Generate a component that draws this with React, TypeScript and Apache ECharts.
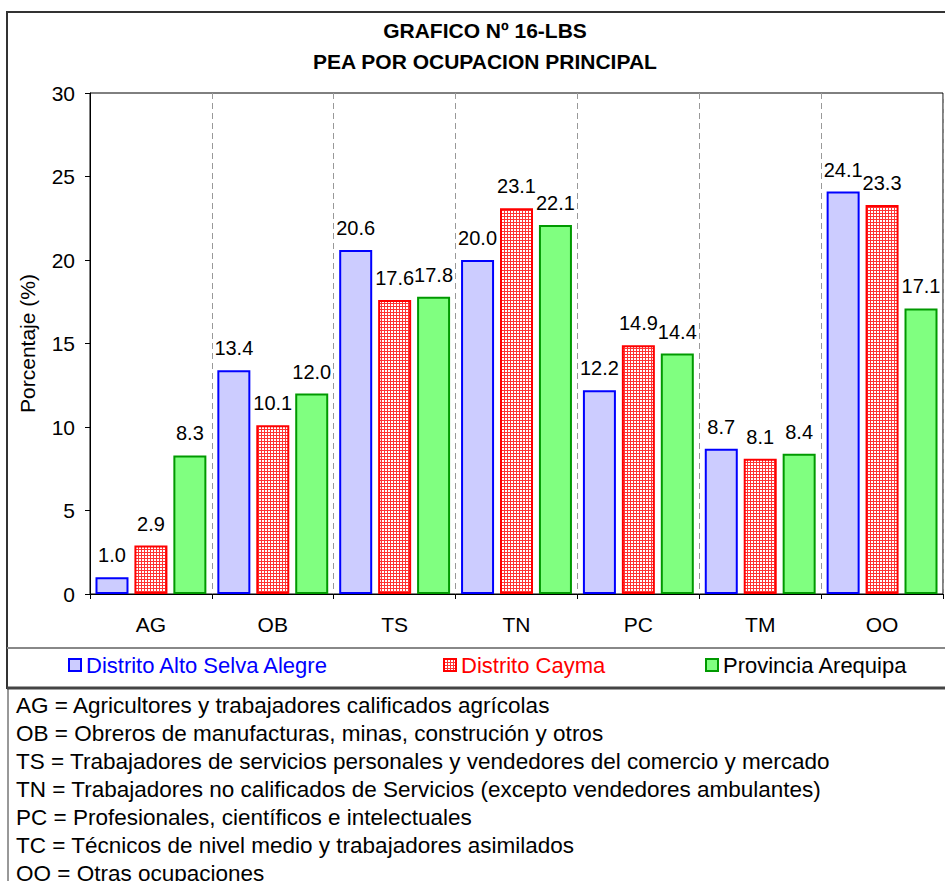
import React, { useEffect, useRef } from "react";
import * as echarts from "echarts";

const categories = ["AG", "OB", "TS", "TN", "PC", "TM", "OO"];
const seriesNames = ["Distrito Alto Selva Alegre", "Distrito Cayma", "Provincia Arequipa"];
const altoSelvaAlegre = [1.0, 13.4, 20.6, 20.0, 12.2, 8.7, 24.1];
const cayma = [2.9, 10.1, 17.6, 23.1, 14.9, 8.1, 23.3];
const arequipa = [8.3, 12.0, 17.8, 22.1, 14.4, 8.4, 17.1];
const titleLines = ["GRAFICO Nº 16-LBS", "PEA POR OCUPACION PRINCIPAL"];
const yAxisName = "Porcentaje (%)";
const definitions = [
  "AG = Agricultores y trabajadores calificados agrícolas",
  "OB = Obreros de manufacturas, minas, construción y otros",
  "TS = Trabajadores de servicios personales y vendedores del comercio y mercado",
  "TN = Trabajadores no calificados de Servicios (excepto vendedores ambulantes)",
  "PC = Profesionales, científicos e intelectuales",
  "TC = Técnicos de nivel medio y trabajadores asimilados",
  "OO = Otras ocupaciones",
];

const FONT = "Liberation Sans, Arial, sans-serif";

function makeRedPattern() {
  const c = document.createElement("canvas");
  c.width = 3;
  c.height = 3;
  const ctx = c.getContext("2d")!;
  ctx.fillStyle = "#ffffff";
  ctx.fillRect(0, 0, 3, 3);
  ctx.fillStyle = "#ff3333";
  ctx.fillRect(0, 0, 3, 1);
  ctx.fillRect(0, 0, 1, 3);
  return c.toDataURL();
}

export default function App() {
  const ref = useRef<HTMLDivElement>(null);
  useEffect(() => {
    if (!ref.current) return;
    const chart = echarts.init(ref.current, null, { renderer: "svg" });
    const redPattern: any = {
      image: makeRedPattern(),
      repeat: "repeat",
      imageWidth: 3,
      imageHeight: 3,
    };
    const labelCfg = {
      show: true,
      position: "top",
      distance: 12,
      color: "#000",
      fontSize: 20,
      fontFamily: FONT,
      formatter: (p: any) => Number(p.value).toFixed(1),
    };
    const legendBase = {
      top: 649,
      icon: "rect",
      itemWidth: 12,
      itemHeight: 12,
      itemGap: 8,
      textStyle: { fontSize: 22, fontFamily: FONT },
    };
    const option: any = {
      animation: false,
      backgroundColor: "#ffffff",
      grid: {
        left: 90,
        top: 93,
        right: 2,
        bottom: 287,
        show: true,
        borderColor: "#000",
        borderWidth: 1,
        backgroundColor: "transparent",
      },
      legend: [
        { ...legendBase, left: 63, data: [seriesNames[0]], textStyle: { ...legendBase.textStyle, color: "#0000ff" } },
        { ...legendBase, left: 438, data: [seriesNames[1]], textStyle: { ...legendBase.textStyle, color: "#ff0000" } },
        { ...legendBase, left: 700, data: [seriesNames[2]], textStyle: { ...legendBase.textStyle, color: "#000" } },
      ],
      xAxis: {
        type: "category",
        data: categories,
        boundaryGap: true,
        axisLine: { lineStyle: { color: "#000", width: 1 } },
        axisTick: { show: true, length: 5, lineStyle: { color: "#000" } },
        axisLabel: { color: "#000", fontSize: 21, fontFamily: FONT, margin: 20 },
        splitLine: { show: true, lineStyle: { color: "#999", type: [6, 4], width: 1 } },
      },
      yAxis: {
        type: "value",
        min: 0,
        max: 30,
        interval: 5,
        name: yAxisName,
        nameLocation: "middle",
        nameGap: 52,
        nameTextStyle: { color: "#000", fontSize: 21, fontFamily: FONT },
        axisLine: { show: true, lineStyle: { color: "#000", width: 1 } },
        axisTick: { show: true, length: 5, lineStyle: { color: "#000" } },
        axisLabel: { color: "#000", fontSize: 21, fontFamily: FONT, margin: 15 },
        splitLine: { show: false },
      },
      series: [
        {
          name: seriesNames[0],
          type: "bar",
          data: altoSelvaAlegre,
          barWidth: 33,
          barGap: "18%",
          itemStyle: { color: "#ccccff", borderColor: "#0000ff", borderWidth: 2 },
          label: labelCfg,
        },
        {
          name: seriesNames[1],
          type: "bar",
          data: cayma,
          barWidth: 33,
          barGap: "18%",
          itemStyle: { color: redPattern, borderColor: "#ff0000", borderWidth: 2 },
          label: labelCfg,
        },
        {
          name: seriesNames[2],
          type: "bar",
          data: arequipa,
          barWidth: 33,
          barGap: "18%",
          itemStyle: { color: "#80ff80", borderColor: "#009900", borderWidth: 2 },
          label: labelCfg,
        },
      ],
      graphic: [
        {
          type: "rect",
          z: -10,
          shape: { x: 7, y: 12, width: 945, height: 676 },
          style: { fill: "none", stroke: "#333", lineWidth: 2 },
          silent: true,
        },
        {
          type: "line",
          shape: { x1: 7, y1: 648, x2: 945, y2: 648 },
          style: { stroke: "#888", lineWidth: 2 },
          silent: true,
        },
        {
          type: "rect",
          shape: { x: 8, y: 688, width: 945, height: 200 },
          style: { fill: "none", stroke: "#333", lineWidth: 1 },
          silent: true,
        },
        {
          type: "line",
          shape: { x1: 7, y1: 688, x2: 945, y2: 688 },
          style: { stroke: "#444", lineWidth: 3 },
          silent: true,
        },
        ...titleLines.map((t, i) => ({
          type: "text",
          x: 485,
          y: 30 + i * 31,
          style: {
            text: t,
            fill: "#000",
            font: `bold 21px ${FONT}`,
            textAlign: "center",
            textVerticalAlign: "middle",
          },
          silent: true,
        })),
        ...definitions.map((t, i) => ({
          type: "text",
          x: 16,
          y: 705 + i * 28,
          style: {
            text: t,
            fill: "#000",
            font: `22.5px ${FONT}`,
            textAlign: "left",
            textVerticalAlign: "middle",
          },
          silent: true,
        })),
      ],
    };
    chart.setOption(option);
    return () => chart.dispose();
  }, []);
  return (
    <div
      ref={ref}
      style={{ position: "absolute", left: 0, top: 0, width: 945, height: 881, background: "#fff" }}
    />
  );
}
